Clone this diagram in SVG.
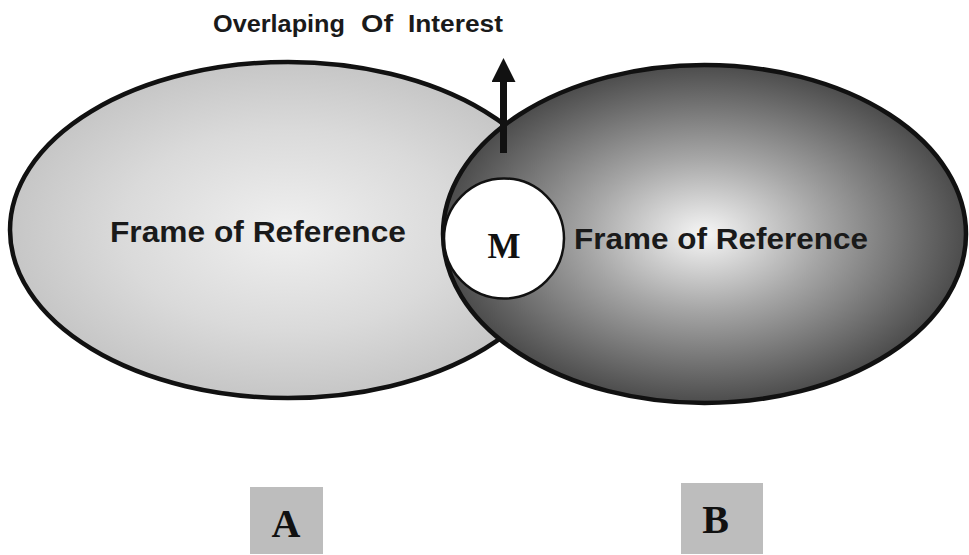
<svg xmlns="http://www.w3.org/2000/svg" width="969" height="555" viewBox="0 0 969 555">
  <defs>
    <radialGradient id="gA" cx="0.5" cy="0.5" r="0.5">
      <stop offset="0" stop-color="#f0f0f0"/>
      <stop offset="0.6" stop-color="#dadada"/>
      <stop offset="1" stop-color="#c6c6c6"/>
    </radialGradient>
    <radialGradient id="gB" cx="0.5" cy="0.5" r="0.5">
      <stop offset="0" stop-color="#f6f6f6"/>
      <stop offset="0.45" stop-color="#a6a6a6"/>
      <stop offset="1" stop-color="#4c4c4c"/>
    </radialGradient>
    <marker id="arrowHead" viewBox="0 0 10 10" refX="0" refY="5" markerWidth="24" markerHeight="24" markerUnits="userSpaceOnUse" orient="auto">
      <path d="M0,0 L10,5 L0,10 Z" fill="#111"/>
    </marker>
    <style>
      .outline { stroke: #111; stroke-width: 4.5; }
      .sans { font-family: "Liberation Sans", Arial, sans-serif; font-weight: bold; fill: #1a1a1a; }
      .serif { font-family: "Liberation Serif", "Times New Roman", serif; font-weight: bold; fill: #111; }
      .box { fill: #bdbdbd; }
    </style>
  </defs>
  <rect width="969" height="555" fill="#ffffff"/>

  <text class="sans" y="32" font-size="23"><tspan x="213" textLength="132" lengthAdjust="spacingAndGlyphs">Overlaping</tspan><tspan x="361" textLength="32" lengthAdjust="spacingAndGlyphs">Of</tspan><tspan x="408" textLength="95" lengthAdjust="spacingAndGlyphs">Interest</tspan></text>

  <g id="nodeA">
    <ellipse cx="288" cy="230" rx="278" ry="168" fill="url(#gA)" class="outline"/>
    <text class="sans" x="110" y="242" font-size="29" textLength="296" lengthAdjust="spacingAndGlyphs">Frame of Reference</text>
  </g>

  <g id="nodeB">
    <ellipse cx="704.5" cy="234" rx="261.5" ry="169" fill="url(#gB)" class="outline"/>
    <text class="sans" x="574" y="249" font-size="29" textLength="294" lengthAdjust="spacingAndGlyphs">Frame of Reference</text>
  </g>

  <g id="nodeM">
    <circle cx="504" cy="238.5" r="60" fill="#ffffff" stroke="#111" stroke-width="2.5"/>
    <text class="serif" x="504" y="258" font-size="35" text-anchor="middle">M</text>
  </g>

  <g id="connectors">
    <line x1="503.5" y1="153" x2="503.5" y2="82" stroke="#111" stroke-width="7" marker-end="url(#arrowHead)"/>
  </g>

  <g id="labelA">
    <rect class="box" x="250" y="487" width="73" height="67"/>
    <text class="serif" x="286" y="537" font-size="40" text-anchor="middle">A</text>
  </g>

  <g id="labelB">
    <rect class="box" x="681" y="483" width="82" height="71" fill="#b3b3b3"/>
    <text class="serif" x="715.5" y="533" font-size="40" text-anchor="middle">B</text>
  </g>
</svg>
